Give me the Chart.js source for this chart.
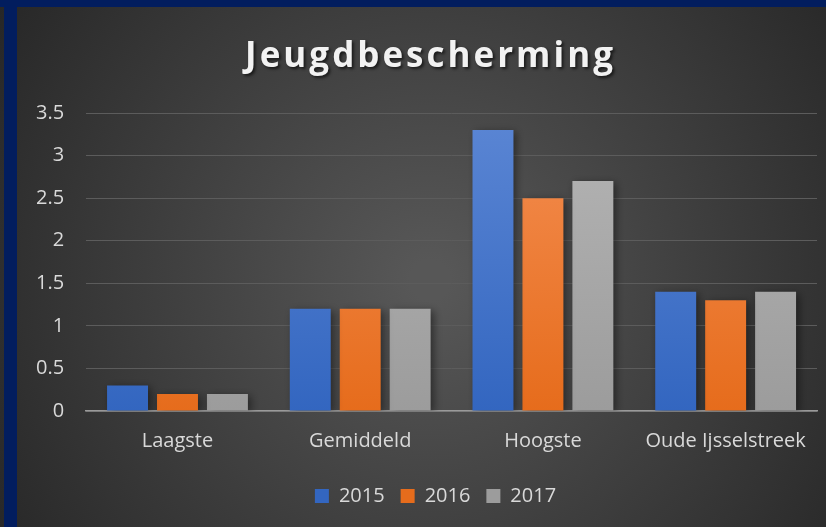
<!DOCTYPE html>
<html>
<head>
<meta charset="utf-8">
<script src="https://cdn.jsdelivr.net/npm/chart.js@4"></script>
<style>
  html, body { margin: 0; padding: 0; background: #2a2a2a; }
  #wrap { width: 826px; height: 527px; }
</style>
</head>
<body>
<div id="wrap"><canvas id="jeugdChart" width="826" height="527"></canvas></div>
<script>
const categories = ["Laagste", "Gemiddeld", "Hoogste", "Oude Ijsselstreek"];
const years = ["2015", "2016", "2017"];
const values2015 = [0.3, 1.2, 3.3, 1.4];
const values2016 = [0.2, 1.2, 2.5, 1.3];
const values2017 = [0.2, 1.2, 2.7, 1.4];
const yTicks = [0, 0.5, 1, 1.5, 2, 2.5, 3, 3.5];

const textColor = "#d9d9d9";

function barGradient(top, bottom) {
  return function (c) {
    const area = c.chart.chartArea;
    if (!area) return bottom;
    const g = c.chart.ctx.createLinearGradient(0, area.top, 0, area.bottom);
    g.addColorStop(0, top);
    g.addColorStop(1, bottom);
    return g;
  };
}

// dark radial background plus the navy frame
const backdrop = {
  id: "backdrop",
  beforeDraw(chart) {
    const ctx = chart.ctx;
    const w = chart.width, h = chart.height;
    ctx.save();
    const g = ctx.createRadialGradient(430, 280, 20, 430, 280, 520);
    g.addColorStop(0, "#575757");
    g.addColorStop(1, "#262626");
    ctx.fillStyle = g;
    ctx.fillRect(0, 0, w, h);
    ctx.fillStyle = "#021d5e";
    ctx.fillRect(0, 0, w, 7);
    ctx.fillRect(4, 0, 13, h);
    ctx.restore();
  },
  beforeDatasetsDraw(chart) {
    const ctx = chart.ctx;
    ctx.save();
    ctx.shadowColor = "rgba(0,0,0,0.45)";
    ctx.shadowBlur = 8;
    ctx.shadowOffsetX = 3;
    ctx.shadowOffsetY = 2;
  },
  afterDatasetsDraw(chart) {
    chart.ctx.restore();
  }
};

const chart = new Chart(document.getElementById("jeugdChart"), {
  type: "bar",
  data: {
    labels: categories,
    datasets: [
      { label: years[0], data: values2015, backgroundColor: barGradient("#5b86d4", "#3366c0") },
      { label: years[1], data: values2016, backgroundColor: barGradient("#f48e52", "#e66c1c") },
      { label: years[2], data: values2017, backgroundColor: barGradient("#b5b5b5", "#9c9c9c") }
    ]
  },
  options: {
    responsive: false,
    animation: false,
    devicePixelRatio: 1,
    layout: { padding: { left: 14, right: 9, top: 0, bottom: 11 } },
    datasets: {
      bar: { categoryPercentage: 0.82, barPercentage: 0.82 }
    },
    scales: {
      x: {
        grid: { display: false, drawTicks: false },
        border: { color: "#9a9a9a", width: 1.5 },
        ticks: { color: textColor, font: { family: "Open Sans", size: 20 }, padding: 18 },
        afterFit(axis) { axis.height -= 1; }
      },
      y: {
        min: 0,
        max: 3.5,
        afterBuildTicks(axis) { axis.ticks = yTicks.map(v => ({ value: v })); },
        grid: { color: "#5c5c5c", drawTicks: false },
        border: { display: false },
        ticks: {
          color: textColor,
          font: { family: "Open Sans", size: 20 },
          padding: 22,
          callback: v => String(v)
        }
      }
    },
    plugins: {
      title: {
        display: true,
        text: "Jeugdbescherming",
        color: "#f2f2f2",
        font: { family: "Open Sans", size: 35, weight: "bold" },
        padding: { top: 36, bottom: 35 }
      },
      legend: {
        position: "bottom",
        labels: {
          color: textColor,
          font: { family: "Open Sans", size: 20 },
          boxWidth: 14,
          boxHeight: 14,
          padding: 16
        }
      },
      tooltip: { enabled: false }
    }
  },
  plugins: [backdrop]
});

// title: letter spacing, soft shadow, nudged right like the original
const tb = chart.titleBlock;
const titleDraw = tb.draw.bind(tb);
tb.draw = function () {
  const ctx = chart.ctx;
  ctx.save();
  ctx.translate(15, 0);
  ctx.letterSpacing = "3px";
  ctx.shadowColor = "rgba(0,0,0,0.6)";
  ctx.shadowBlur = 3;
  ctx.shadowOffsetX = 2;
  ctx.shadowOffsetY = 2;
  titleDraw();
  ctx.restore();
};

// legend sits a bit right of the canvas centre too
const lg = chart.legend;
const legendDraw = lg.draw.bind(lg);
lg.draw = function () {
  const ctx = chart.ctx;
  ctx.save();
  ctx.translate(20, 0);
  legendDraw();
  ctx.restore();
};
chart.draw();
</script>
</body>
</html>
